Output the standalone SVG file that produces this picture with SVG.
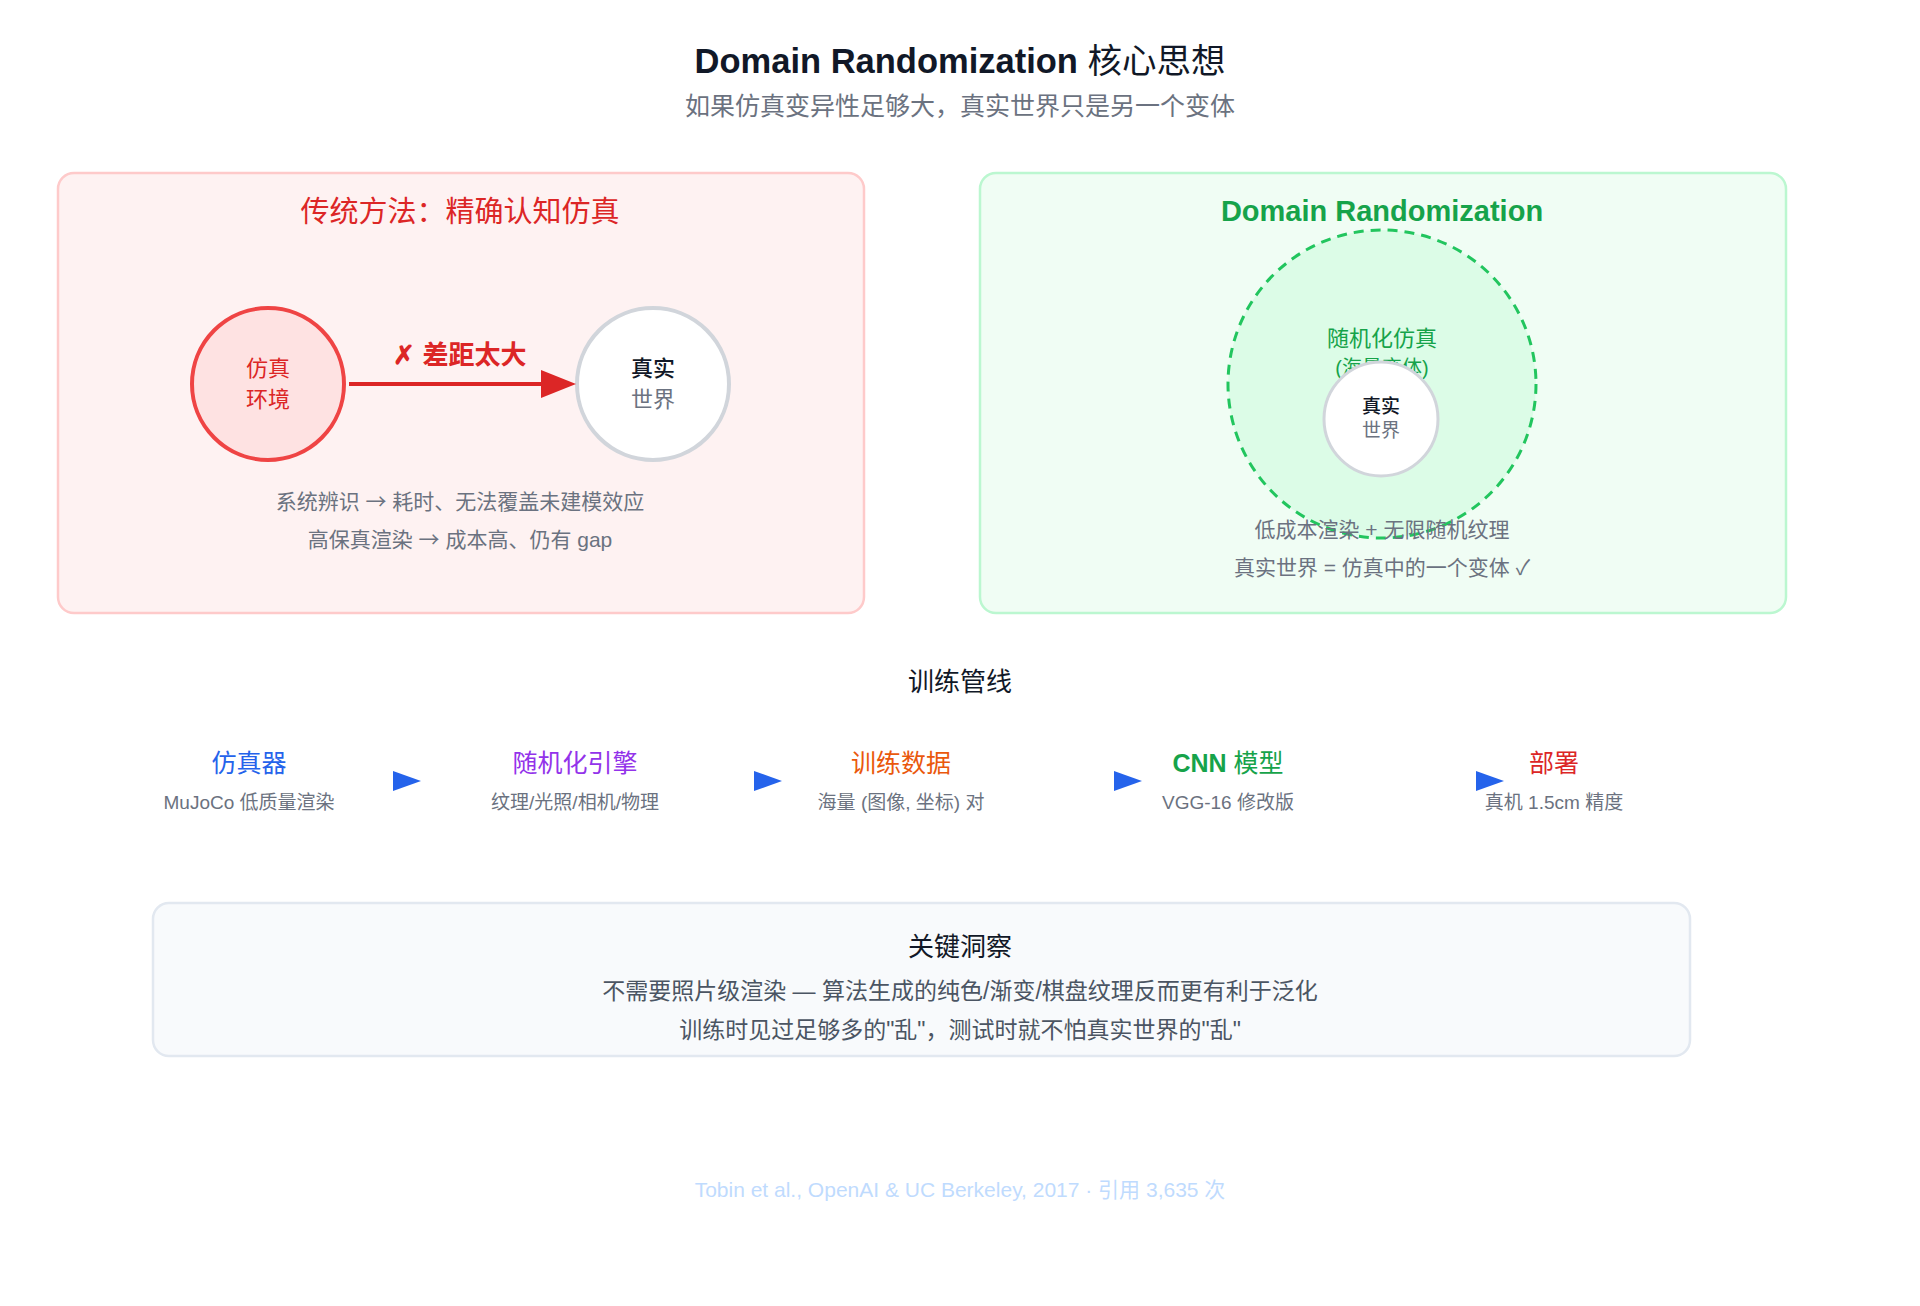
<svg xmlns="http://www.w3.org/2000/svg" width="1920" height="1306" viewBox="0 0 1920 1306">
<style>
text{font-family:"Liberation Sans","Noto Sans CJK SC",sans-serif;text-anchor:middle}
.h1{font-size:34.5px;font-weight:bold;fill:#111827}
.sub{font-size:25px;fill:#6b7280}
.ptitle{font-size:29px}
.body{font-size:21px;fill:#6b7280}
.arr{font-family:"Noto Sans CJK SC",sans-serif}
.dark{fill:#111827}
.gray{fill:#6b7280}
.sec{font-size:26px;fill:#111827}
.pt{font-size:25px}
.ps{font-size:19px;fill:#6b7280}
.tri{fill:#2563eb}
</style>
<rect width="1920" height="1306" fill="#ffffff"/>
<g id="title">
<text class="h1" x="960" y="73">Domain Randomization <tspan font-weight="normal">核心思想</tspan></text>
<text class="sub" x="960" y="115">如果仿真变异性足够大，真实世界只是另一个变体</text>
</g>
<g id="panel-left">
<rect x="58" y="173" width="806" height="440" rx="16" fill="#fef2f2" stroke="#fecaca" stroke-width="2.5"/>
<text class="ptitle" x="460" y="222" fill="#dc2626">传统方法：精确认知仿真</text>
<text class="body" x="460" y="509">系统辨识 <tspan class="arr">→</tspan> 耗时、无法覆盖未建模效应</text>
<text class="body" x="460" y="547">高保真渲染 <tspan class="arr">→</tspan> 成本高、仍有 gap</text>
</g>
<g id="node-sim">
<circle cx="268" cy="384" r="76" fill="#fee2e2" stroke="#ef4444" stroke-width="4"/>
<text x="268" y="376" font-size="22" fill="#dc2626">仿真</text>
<text x="268" y="407" font-size="22" fill="#dc2626">环境</text>
</g>
<g id="node-real">
<circle cx="653" cy="384" r="76" fill="#ffffff" stroke="#d1d5db" stroke-width="4"/>
<text x="653" y="376" font-size="22" font-weight="500" class="dark">真实</text>
<text x="653" y="407" font-size="22" class="gray">世界</text>
</g>
<g id="connectors">
<line x1="349" y1="384" x2="545" y2="384" stroke="#dc2626" stroke-width="4"/>
<polygon points="541,370 576,384 541,398" fill="#dc2626"/>
<text x="460" y="364" font-size="26" font-weight="bold" fill="#dc2626">✗ 差距太大</text>
</g>
<g id="panel-right">
<rect x="980" y="173" width="806" height="440" rx="16" fill="#f0fdf4" stroke="#bbf7d0" stroke-width="2.5"/>
<text class="ptitle" x="1382" y="221" font-weight="bold" fill="#16a34a">Domain Randomization</text>
</g>
<g id="node-randsim">
<circle cx="1382" cy="384" r="154" fill="#dcfce7" stroke="#22c55e" stroke-width="3" stroke-dasharray="10,7"/>
<text x="1382" y="346" font-size="22" fill="#16a34a">随机化仿真</text>
<text x="1382" y="375" font-size="20" fill="#16a34a">(海量变体)</text>
</g>
<g id="node-real2">
<circle cx="1381" cy="419" r="57" fill="#ffffff" stroke="#d1d5db" stroke-width="3"/>
<text x="1381" y="413" font-size="19" font-weight="500" class="dark">真实</text>
<text x="1381" y="437" font-size="19" class="gray">世界</text>
</g>
<g id="right-notes">
<text class="body" x="1382" y="537">低成本渲染 + 无限随机纹理</text>
<text class="body" x="1382" y="575">真实世界 = 仿真中的一个变体 ✓</text>
</g>
<text class="sec" x="960" y="691">训练管线</text>
<g id="pipe-sim">
<text class="pt" x="249" y="772" fill="#2563eb">仿真器</text>
<text class="ps" x="249" y="809">MuJoCo 低质量渲染</text>
</g>
<g id="pipe-rand">
<text class="pt" x="575" y="772" fill="#9333ea">随机化引擎</text>
<text class="ps" x="575" y="809">纹理/光照/相机/物理</text>
</g>
<g id="pipe-data">
<text class="pt" x="901" y="772" fill="#ea580c">训练数据</text>
<text class="ps" x="901" y="809">海量 (图像, 坐标) 对</text>
</g>
<g id="pipe-cnn">
<text class="pt" x="1228" y="772" fill="#16a34a"><tspan font-weight="bold">CNN</tspan> 模型</text>
<text class="ps" x="1228" y="809">VGG-16 修改版</text>
</g>
<g id="pipe-deploy">
<text class="pt" x="1554" y="772" fill="#dc2626">部署</text>
<text class="ps" x="1554" y="809">真机 1.5cm 精度</text>
</g>
<g id="pipe-arrows">
<polygon class="tri" points="393,771 421,781 393,791"/>
<polygon class="tri" points="754,771 782,781 754,791"/>
<polygon class="tri" points="1114,771 1142,781 1114,791"/>
<polygon class="tri" points="1476,771 1504,781 1476,791"/>
</g>
<g id="insight">
<rect x="153" y="903" width="1537" height="153" rx="16" fill="#f8fafc" stroke="#e2e8f0" stroke-width="2.5"/>
<text class="sec" x="960" y="956">关键洞察</text>
<text x="960" y="999" font-size="23" fill="#4b5563">不需要照片级渲染 — 算法生成的纯色/渐变/棋盘纹理反而更有利于泛化</text>
<text x="960" y="1038" font-size="23" fill="#4b5563">训练时见过足够多的"乱"，测试时就不怕真实世界的"乱"</text>
</g>
<text x="960" y="1197" font-size="21" fill="#bfdbfe">Tobin et al., OpenAI &amp; UC Berkeley, 2017 · 引用 3,635 次</text>
</svg>
